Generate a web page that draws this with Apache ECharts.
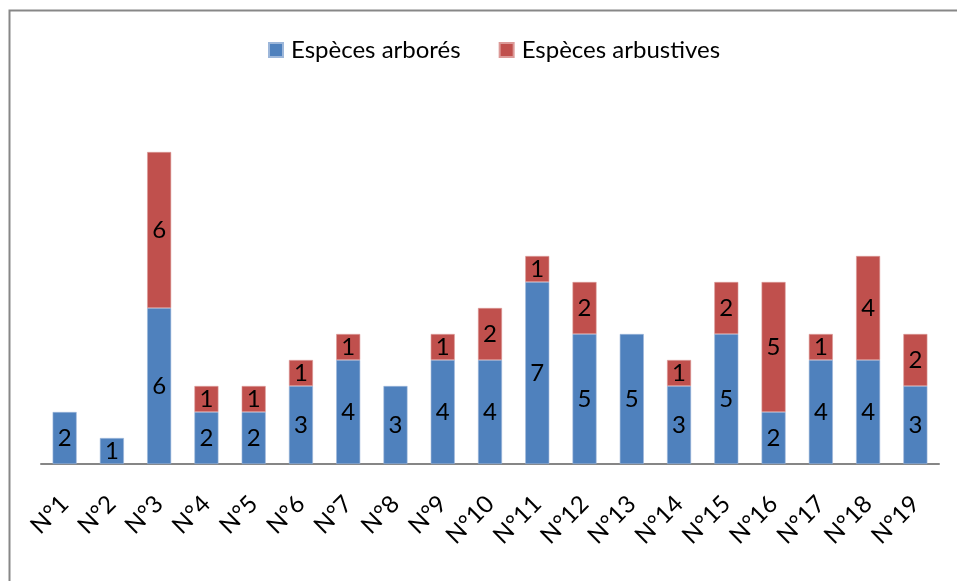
<!DOCTYPE html>
<html>
<head>
<meta charset="utf-8">
<script src="https://cdn.jsdelivr.net/npm/echarts@6/dist/echarts.min.js"></script>
<style>
  html, body { margin: 0; padding: 0; background: #fff; }
  #chart { width: 957px; height: 581px; }
</style>
</head>
<body>
<div id="chart"></div>
<script>
// Sites
const categories = ['N°1','N°2','N°3','N°4','N°5','N°6','N°7','N°8','N°9','N°10',
                    'N°11','N°12','N°13','N°14','N°15','N°16','N°17','N°18','N°19'];
// Number of tree species per site
const arbores = [2,1,6,2,2,3,4,3,4,4,7,5,5,3,5,2,4,4,3];
// Number of shrub species per site
const arbustives = [0,0,6,1,1,1,1,0,1,2,1,2,0,1,2,5,1,4,2];

const FONT = 'Lato, "Open Sans", sans-serif';

const chart = echarts.init(document.getElementById('chart'), null, { renderer: 'canvas' });

const labelStyle = {
  show: true,
  position: 'inside',
  color: '#000',
  fontFamily: FONT,
  fontSize: 24,
  formatter: p => (p.value ? String(p.value) : '')
};

// empty segments are left out so that no zero-height sliver is drawn
const seg = arr => arr.map(v => (v ? v : null));

chart.setOption({
  animation: false,
  backgroundColor: '#fff',
  graphic: [{
    type: 'rect',
    left: 7, top: 8,
    shape: { width: 980, height: 600 },
    style: { fill: 'none', stroke: '#878787', lineWidth: 2 },
    silent: true
  }],
  legend: {
    top: 33,
    left: 263,
    itemWidth: 14,
    itemHeight: 14,
    itemGap: 38,
    icon: 'rect',
    textStyle: { fontFamily: FONT, fontSize: 24, color: '#000', padding: [0, 0, 0, 3] },
    data: ['Espèces arborés', 'Espèces arbustives']
  },
  grid: { left: 41, right: 18, top: 100, bottom: 117, containLabel: false },
  xAxis: {
    type: 'category',
    data: categories,
    axisLine: { show: true, lineStyle: { color: '#868686', width: 2 } },
    axisTick: { show: false },
    axisLabel: {
      rotate: 45,
      margin: 36,
      color: '#000',
      fontFamily: FONT,
      fontSize: 24,
      interval: 0
    }
  },
  yAxis: {
    type: 'value',
    min: 0,
    max: 14,
    show: false,
    splitLine: { show: false }
  },
  series: [
    {
      name: 'Espèces arborés',
      type: 'bar',
      stack: 'total',
      barWidth: 24,
      data: seg(arbores),
      itemStyle: { color: '#4F81BD', borderColor: '#9db7da', borderWidth: 0.6 },
      label: labelStyle
    },
    {
      name: 'Espèces arbustives',
      type: 'bar',
      stack: 'total',
      barWidth: 24,
      data: seg(arbustives),
      itemStyle: { color: '#C0504D', borderColor: '#dc9a98', borderWidth: 0.6 },
      label: labelStyle
    }
  ]
});
</script>
</body>
</html>
